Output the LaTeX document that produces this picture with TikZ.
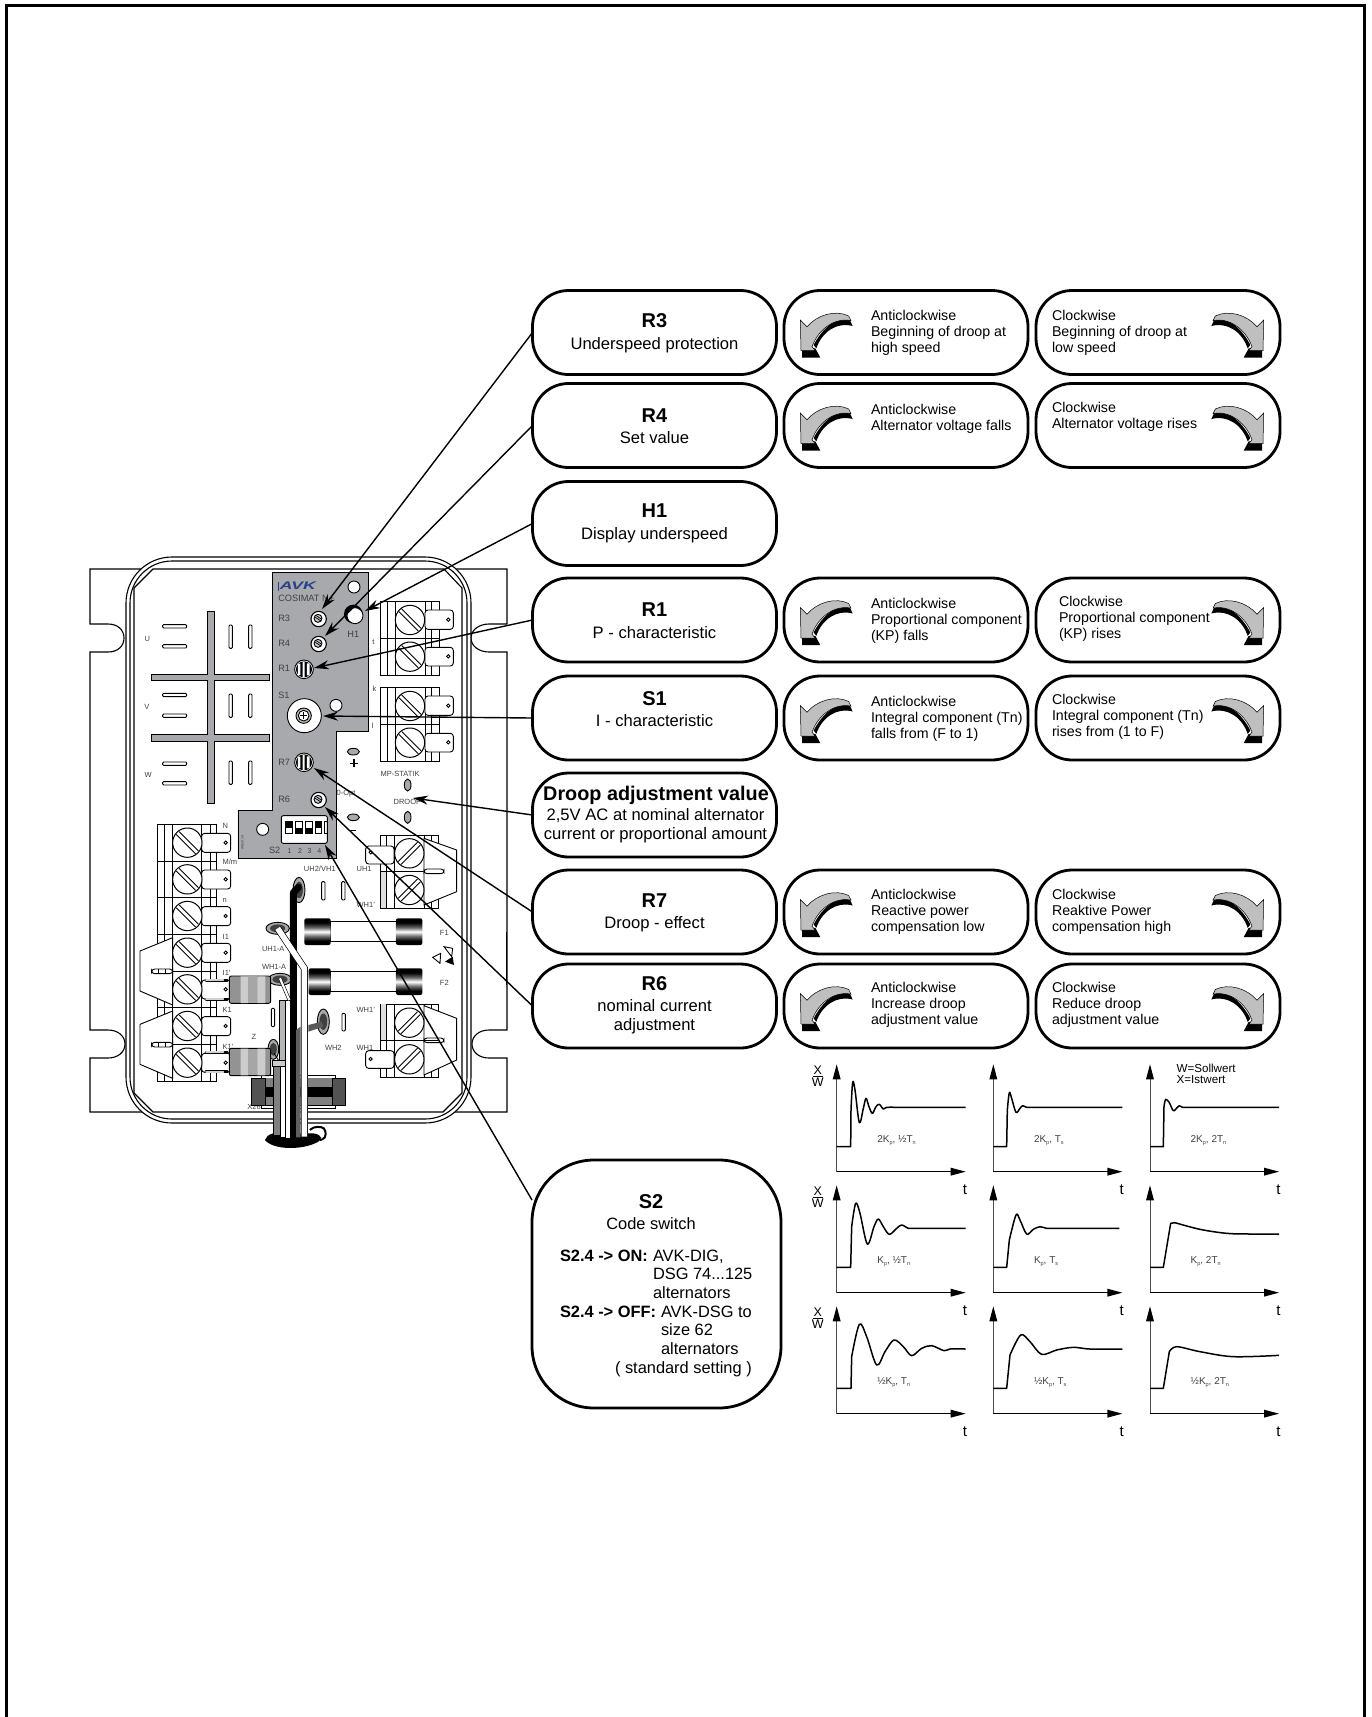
\documentclass[tikz,border=0pt]{standalone}
\usepackage{fontspec}
\usepackage{graphicx}
\setmainfont{Liberation Sans}
\usetikzlibrary{arrows.meta}
\newcommand\fsz[1]{\fontsize{#1}{#1}\selectfont}
\newcounter{nn}
\newcommand\lab[4][]{\stepcounter{nn}\node[txt,#1] (n\arabic{nn}) at (#2,#3) {#4};}
\newcommand\dev[3]{\lab[devt]{#1}{#2}{\fsz{7.5}#3}}
\newcommand\pan[3]{\lab[devt]{#1}{#2}{\fsz{9.2}#3}}
\newcommand\sbs[1]{{\fsz{5.5}\raisebox{-1.5pt}{#1}}}
\newcommand\ttlb[2]{\lab[anchor=mid]{654.5}{#1}{\fsz{20}\bfseries #2}}
\newcommand\subb[2]{\lab[anchor=mid]{654.5}{#1}{\fsz{16.6}#2}}
\newcommand\blk[3]{\lab{#1}{#2}{\fontsize{14.2}{16.2}\selectfont\begin{tabular}{@{}l@{}}#3\end{tabular}}}
\definecolor{panelgray}{HTML}{A7A9AC}
\definecolor{devtext}{HTML}{404040}
\definecolor{avkblue}{HTML}{27408B}
\pgfdeclareverticalshading{capshade}{100bp}{color(0bp)=(black); color(33bp)=(black); color(42bp)=(black!55); color(50bp)=(white); color(58bp)=(black!60); color(67bp)=(black); color(100bp)=(black)}
\tikzset{
 txt/.style={inner sep=0pt,outer sep=0pt,anchor=mid west,align=left},
 devt/.style={text=devtext},
 bx/.style={draw=black,line width=2.8pt,rounded corners=36pt,fill=white,inner sep=0pt,outer sep=0pt,align=center,minimum height=84pt},
 bxa/.style={bx,minimum width=244pt},
 conn/.style={draw=black,line width=1.4pt,-{Stealth[length=15pt,width=9pt]}},
 thin1/.style={draw=black,line width=.9pt},
 crv/.style={draw=black,line width=1.5pt,line join=round},
 zoomA/.style={shift={(80,550)},scale=1/3},
 zoomB/.style={shift={(120,800)},scale=1/3},
 zoomC/.style={shift={(800,1050)},scale=1/3},
 icanti/.pic={
  \begin{scope}[scale=1/3,shift={(-8,-30)}]
   \fill[black] (65,205) -- (105,205) -- (120,233) -- (65,233) -- cycle;
   \fill[black] (100,195) .. controls (125,145) and (170,110) .. (205,112) -- (217,138) .. controls (170,125) and (125,155) .. (108,205) -- cycle;
   \draw[fill=gray!50!white,line width=.5pt] (60,120) -- (80,140) .. controls (110,105) and (165,88) .. (205,108) -- (212,122) .. controls (165,112) and (115,145) .. (95,200) -- (105,212) -- (62,212) -- cycle;
  \end{scope}}
}
\newcommand\screw[3]{\begin{scope}[shift={(#1,#2)},rotate=#3]
 \draw[thin1,fill=white,line width=1pt] (0,0) circle[radius=44];
 \draw[thin1] (-41,-6) -- (41,-6) (-41,6) -- (41,6);
\end{scope}}
\newcommand\tabb[6]{\draw[thin1,fill=white,rounded corners=3pt] (#1,#2) rectangle (#3,#4);
 \draw[thin1,fill=white] (#5,#6) circle[radius=5];}
\newcommand\trim[2]{\begin{scope}[shift={(#1,#2)}]
 \draw[thin1,fill=white,line width=1.1pt] (0,0) circle[radius=23];
 \draw[thin1,fill=gray!45,line width=.9pt] (-2,-2) circle[radius=12];
 \draw[black,line width=.7pt] (-10,-5) -- (7,6) (-7,-10) -- (9,1);
\end{scope}}
\newcommand\potm[2]{\begin{scope}[shift={(#1,#2)}]
 \draw[thin1,fill=white] (0,0) circle[radius=28];
 \fill[black] (0,0) circle[radius=24];
 \fill[white] (-18,-17) rectangle (-11,17) (-4,-23) rectangle (2,23) (9,-18) rectangle (17,18);
\end{scope}}
\newcommand\axes[2]{%
 \draw[draw=black!70,line width=.8pt] (#1,#2) -- (#1,{#2-280});
 \fill[black] (#1,{#2-322}) -- ({#1-12},{#2-277}) -- ({#1+12},{#2-277}) -- cycle;
 \draw[black,line width=1.5pt] (#1,#2) -- ({#1+345},#2);
 \fill[black] ({#1+387},#2) -- ({#1+342},{#2-12}) -- ({#1+342},{#2+12}) -- cycle;
 \lab[anchor=mid]{{#1+385}}{{#2+61}}{\fsz{15}t}}
\newcommand\xw[1]{\lab[anchor=mid]{53}{{#1+66}}{\fsz{12.5}X}\lab[anchor=mid]{53}{{#1+101}}{\fsz{12.5}W}\draw[black,line width=.7pt] (38,{#1+78}) -- (69,{#1+78});}
\begin{document}
\begin{tikzpicture}[x=1pt,y=-1pt]
\path[use as bounding box] (0,0) rectangle (1372,1717);
% page frame
\draw[black,line width=3pt,miter limit=10] (6.5,1717) -- (6.5,5) -- (1364.5,5) -- (1364.5,1717);

% ---------- device: plate and housing
\draw[thin1,fill=white,line width=1.1pt] (90,569) -- (90,624) -- (108,624) .. controls (118,624) and (124,630) .. (124,638) .. controls (124,646) and (118,652) .. (108,652) -- (90,652) -- (90,1030) -- (108,1030) .. controls (118,1030) and (125,1036) .. (125,1044) .. controls (125,1052) and (118,1058) .. (108,1058) -- (90,1058) -- (90,1112) -- (507,1112) -- (507,1058) -- (489,1058) .. controls (479,1058) and (472,1052) .. (472,1044) .. controls (472,1036) and (479,1030) .. (489,1030) -- (507,1030) -- (507,652) -- (489,652) .. controls (479,652) and (471,646) .. (471,638) .. controls (471,630) and (479,624) .. (489,624) -- (507,624) -- (507,569) -- cycle;
\draw[black,line width=1.6pt] (506.5,932) -- (506.5,985);
\draw[thin1,fill=white,line width=1.1pt,rounded corners=46pt] (126,557) rectangle (471,1123);
\draw[thin1,line width=1.1pt,rounded corners=42pt] (130,561) rectangle (467,1119);
\draw[thin1,line width=1.1pt] (134,588) -- (153,569) -- (444,569) -- (462,588) -- (462,1093) -- (443,1112) -- (153,1112) -- (134,1093) -- cycle;

% ---------- upper part (first crop coordinates)
\begin{scope}[zoomA]
 % bus bars
 \draw[thin1,fill=panelgray] (382,184) -- (402,184) -- (402,372) -- (568,372) -- (568,392) -- (402,392) -- (402,553) -- (568,553) -- (568,574) -- (402,574) -- (402,760) -- (382,760) -- (382,574) -- (214,574) -- (214,553) -- (382,553) -- (382,392) -- (214,392) -- (214,372) -- (382,372) -- cycle;
 % slots
 \foreach \yy in {224,284,430,492,636,695}{\draw[thin1,fill=white,rounded corners=1pt] (248,\yy) rectangle (320,\yy+10);}
 \foreach \yy in {225,432,633}{\foreach \xx in {447,506}{\draw[thin1,fill=white,rounded corners=1pt] (\xx,\yy) rectangle (\xx+10,\yy+70);}}
 \dev{194}{266}{U}\dev{193}{471}{V}\dev{194}{674}{W}
 % gray panel
 \draw[thin1,fill=panelgray] (578,68) -- (866,68) -- (866,543) -- (770,543) -- (770,925) -- (474,925) -- (474,780) -- (578,780) -- cycle;
 \fill[avkblue] (594,96) rectangle (597,124);
 \lab{600}{112}{\scalebox{1.6}[1]{\fsz{11}\color{avkblue}\bfseries\itshape AVK}}
 \pan{595}{146}{COSIMAT N+}
 \draw[thin1,fill=white] (822,111) circle[radius=18];
 \pan{595}{207}{R3}\pan{595}{283}{R4}\pan{595}{358}{R1}\pan{595}{437}{S1}\pan{595}{638}{R7}\pan{595}{751}{R6}
 \trim{716}{207}\trim{716}{282}\trim{716}{750}
 \fill[black] (820,192) circle[radius=28];
 \draw[thin1,fill=white] (825,197) circle[radius=24];
 \lab[devt,anchor=mid]{820}{256}{\fsz{9.2}H1}
 \potm{672}{358}\potm{672}{637}
 \draw[thin1,fill=white] (673,497) circle[radius=51];
 \draw[thin1,fill=panelgray!80!white] (671,497) circle[radius=23];
 \draw[thin1,fill=white] (671,497) circle[radius=16];
 \draw[black,line width=1pt] (660,497) -- (682,497) (671,486) -- (671,508);
 \draw[thin1,fill=white] (768,466) circle[radius=18];
 \draw[thin1,fill=white] (548,838) circle[radius=18];
 % dip switch
 \draw[thin1,fill=white,rounded corners=2pt] (604,797) rectangle (742,880);
 \foreach \xx/\tp/\bt in {617/black/white,647/white/black,676/white/black,705/black/white}{
  \fill[\tp] (\xx,815) rectangle (\xx+20,833);
  \fill[\bt] (\xx,833) rectangle (\xx+20,851);
  \draw[black,line width=.6pt] (\xx,815) rectangle (\xx+20,851);}
 \draw[thin1] (733,815) rectangle (742,851);
 \pan{567}{903}{S2}
 \foreach \xx/\dd in {629/1,660/2,689/3,718/4}{\lab[devt,anchor=mid]{\xx}{903}{\fsz{7}\dd}}
 \lab[devt,anchor=mid,rotate=90]{483}{878}{\fsz{3.5}AW1K1A}
 % terminal blocks right
 \foreach \yy in {155,413}{
  \draw[thin1,fill=white] (902,\yy) rectangle (1078,\yy+221);
  \foreach \xx in {922,945,1035,1055}{\draw[thin1] (\xx,\yy) -- (\xx,\yy+221);}
  \draw[thin1] (902,\yy+110) -- (1078,\yy+110);
  \tabb{1035}{\yy+25}{1120}{\yy+83}{1105}{\yy+54}
  \tabb{1035}{\yy+137}{1120}{\yy+193}{1105}{\yy+164}
  \screw{990}{\yy+55}{-45}
  \screw{990}{\yy+165}{-45}}
 \dev{877}{275}{t}\dev{878}{418}{k}\dev{876}{528}{l}
 % signs and test points
 \draw[thin1,fill=panelgray] (820,605) ellipse[x radius=18,y radius=10];
 \draw[thin1,fill=panelgray] (820,802) ellipse[x radius=18,y radius=10];
 \draw[thin1,fill=panelgray] (983,705) ellipse[x radius=10,y radius=18];
 \draw[thin1,fill=panelgray] (983,802) ellipse[x radius=10,y radius=18];
 \draw[black,line width=1.2pt] (810,640) -- (834,640) (822,628) -- (822,652);
 \draw[black,line width=1.2pt] (808,842) -- (828,842);
 \dev{902}{672}{MP-STATIK}\dev{941}{755}{DROOP}\dev{770}{728}{0-Opt}
\end{scope}

% ---------- lower part (second crop coordinates)
\begin{scope}[zoomB]
 % left block
 \draw[thin1,fill=white] (112,73) rectangle (290,843);
 \foreach \xx in {132,157,245,270}{\draw[thin1] (\xx,73) -- (\xx,843);}
 \draw[black,line width=1pt] (112,183) -- (290,183) (112,293) -- (290,293) (112,403) -- (290,403) (112,513) -- (290,513) (112,623) -- (290,623) (112,733) -- (290,733);
 % left hexagons with pins
 \foreach \yy in {413,633}{
  \draw[thin1,fill=white] (158,\yy) -- (60,\yy+40) -- (60,\yy+160) -- (158,\yy+202) -- cycle;
  \draw[thin1,fill=white,rounded corners=3pt] (95,\yy+94) rectangle (158,\yy+108);
  \draw[thin1] (115,\yy+94) -- (115,\yy+108) (135,\yy+94) -- (135,\yy+108);}
 \foreach \yy in {128,238,348,458,568,678,788}{
  \tabb{245}{\yy-28}{332}{\yy+29}{317}{\yy}
  \screw{202}{\yy}{-45}}
 \dev{308}{79}{N}\dev{308}{187}{M/m}\dev{308}{299}{n}\dev{308}{410}{I1}\dev{308}{518}{I1'}\dev{308}{630}{K1}\dev{308}{740}{K1'}
 % right block upper
 \draw[thin1,fill=white] (780,105) rectangle (955,325);
 \fill[gray!25] (780,215) rectangle (800,325);
 \draw[thin1] (780,105) -- (780,325);
 \foreach \xx in {800,822,912,935}{\draw[thin1] (\xx,105) -- (\xx,325);}
 \draw[thin1] (780,215) -- (912,215);
 \draw[thin1,fill=white] (912,115) -- (1010,150) -- (1010,275) -- (912,315) -- cycle;
 \draw[thin1,fill=white,rounded corners=3pt] (912,207) rectangle (972,221);
 \screw{868}{160}{45}\screw{868}{270}{45}
 \draw[thin1,fill=white,rounded corners=3pt] (737,138) rectangle (822,192);
 \draw[thin1,fill=white] (752,157) circle[radius=5];
 % right block lower
 \draw[thin1,fill=white] (780,613) rectangle (955,833);
 \fill[gray!25] (780,613) rectangle (800,722);
 \draw[thin1] (780,613) -- (780,833);
 \foreach \xx in {800,822,912,935}{\draw[thin1] (\xx,613) -- (\xx,833);}
 \draw[thin1,fill=white] (912,617) -- (1010,655) -- (1010,780) -- (912,825) -- cycle;
 \draw[thin1,fill=white,rounded corners=3pt] (912,714) rectangle (972,728);
 \draw[black,line width=1pt] (780,722) -- (955,722);
 \screw{868}{668}{45}\screw{868}{778}{45}
 \draw[thin1,fill=white,rounded corners=3pt] (737,752) rectangle (822,805);
 \draw[thin1,fill=white] (752,777) circle[radius=5];
 \dev{552}{207}{UH2/VH1}\dev{710}{207}{UH1}\dev{710}{315}{WH1'}\dev{710}{630}{WH1'}\dev{710}{745}{WH1}\dev{615}{745}{WH2}
 \dev{960}{400}{F1}\dev{960}{550}{F2}\dev{395}{710}{Z}\dev{426}{448}{UH1-A}\dev{426}{500}{WH1-A}\dev{382}{920}{X26}
 % slots
 \foreach \xx/\ya/\yb in {605/245/300,665/245/300,454/625/680,666/640/693}{\draw[thin1,fill=white,rounded corners=1pt] (\xx,\ya) rectangle (\xx+10,\yb);}
 % fuses
 \draw[thin1,fill=white] (632,365) rectangle (828,425);
 \draw[thin1,fill=white] (632,515) rectangle (828,575);
 \foreach \xa/\xb/\yy in {553/632/355,828/907/355,566/632/505,828/907/505}{
  \shade[shading=capshade,rounded corners=2pt] (\xa,\yy) rectangle (\xb,\yy+80);}
 % ESD sign
 \draw[thin1] (938,472) -- (962,460) -- (960,490) -- cycle;
 \draw[thin1] (972,440) -- (998,445) -- (995,470) -- cycle;
 \fill[black] (975,485) -- (998,470) -- (1002,495) -- cycle;
 % connector X26
 \draw[thin1,fill=white] (425,825) rectangle (645,925);
 \fill[gray!65!black,draw=black,line width=.5pt] (393,835) rectangle (677,915);
 \fill[gray] (437,835) rectangle (637,915);
 \fill[black] (437,860) rectangle (637,892);
 \draw[thin1] (437,835) -- (437,915) (637,835) -- (637,915);
 % grommets
 \foreach \xx/\yy/\rx/\ry in {537/270/18/38,473/385/35/18,480/538/35/18,610/665/18/38,460/748/16/30}{
  \draw[thin1,fill=panelgray] (\xx,\yy) ellipse[x radius=\rx,y radius=\ry];
  \fill[black!75] (\xx,\yy) ellipse[x radius=\rx*.65,y radius=\ry*.65];}
 % resistors
 \foreach \yy in {528,745}{
  \draw[black,line width=3pt,line cap=round] (258,\yy+12) -- (322,\yy+12) (258,\yy+70) -- (322,\yy+70);
  \draw[gray!35,line width=1.8pt,line cap=round] (258,\yy+12) -- (310,\yy+12) (258,\yy+70) -- (310,\yy+70);
  \draw[thin1,fill=gray!85!white,rounded corners=2pt] (328,\yy) rectangle (452,\yy+82);
  \fill[gray!40] (362,\yy+1) rectangle (385,\yy+81) (412,\yy+1) rectangle (412+24,\yy+81);
  \fill[gray!70] (385,\yy+1) rectangle (412,\yy+81);}
 % cable bundle
 \fill[black] (435,1020) .. controls (440,1000) and (470,995) .. (500,1000) -- (580,1000) .. controls (610,1005) and (610,1020) .. (585,1030) .. controls (540,1050) and (460,1050) .. (435,1020) -- cycle;
 \draw[black,line width=2pt,rounded corners=4pt] (570,990) -- (580,980) -- (615,982) -- (618,1015) -- (600,1020);
 \draw[black,line width=7pt,line cap=round,line join=round] (535,262) -- (520,278) -- (520,1010);
 % gray and white strands
 \fill[panelgray!85!white,draw=black,line width=.4pt] (478,600) -- (495,600) -- (495,785) -- (478,785) -- cycle;
 \fill[white,draw=black,line width=.4pt] (495,600) rectangle (510,1015);
 \fill[gray,draw=black,line width=.4pt] (460,800) rectangle (480,1005);
 \fill[panelgray!60!white,draw=black,line width=.4pt] (456,782) rectangle (495,798);
 \fill[white,draw=black,line width=.4pt] (480,798) rectangle (495,1012);
 \draw[black,line width=7pt,line join=miter] (473,385) -- (553,505) -- (553,1010);
 \draw[white,line width=5.6pt,line join=miter] (473,385) -- (553,505) -- (553,1010);
 \draw[black,line width=3.4pt] (480,535) -- (508,600);
 \draw[white,line width=2.2pt] (480,535) -- (508,600);
 \fill[gray!75!black] (528,690) -- (542,680) -- (542,1012) -- (528,1012) -- cycle;
 \fill[gray!70!black] (565,675) -- (605,665) -- (610,680) -- (565,695) -- cycle;
 \draw[thin1] (462,760) -- (475,780);
\end{scope}

% ---------- boxes, first column
\node[bxa] (r3) at (654.5,332.5) {};
\node[bxa] (r4) at (654.5,425.5) {};
\node[bxa] (h1) at (654.5,523.5) {};
\node[bxa] (r1) at (654.5,620) {};
\node[bxa] (s1) at (654.5,718) {};
\node[bxa] (dr) at (654.5,815) {};
\node[bxa] (r7) at (654.5,912) {};
\node[bxa] (r6) at (654.5,1006) {};
\node[bx,minimum width=249pt,minimum height=248pt,rounded corners=62pt] (s2) at (656.5,1284) {};
\ttlb{325}{R3}\subb{347}{Underspeed protection}
\ttlb{420}{R4}\subb{441}{Set value}
\ttlb{515}{H1}\subb{537}{Display underspeed}
\ttlb{614}{R1}\subb{636}{P - characteristic}
\ttlb{703}{S1}\subb{724}{I - characteristic}
\lab[anchor=mid]{656}{798}{\fsz{19.8}\bfseries Droop adjustment value}
\subb{818}{\hspace*{2pt}2,5V AC at nominal alternator}
\subb{837}{\hspace*{2pt}current or proportional amount}
\ttlb{905}{R7}\subb{926}{Droop - effect}
\ttlb{988}{R6}\subb{1009}{nominal current}\subb{1028}{adjustment}

% S2 text
\lab[anchor=mid]{651}{1206}{\fsz{20}\bfseries S2}
\lab[anchor=mid]{651}{1227}{\fsz{16.4}Code switch}
\lab{560}{1258.5}{\fsz{16.4}\bfseries S2.4 -> ON:}
\lab{653}{1258.5}{\fsz{16.4}AVK-DIG,}
\lab{653}{1276.5}{\fsz{16.4}DSG 74...125}
\lab{653}{1295.5}{\fsz{16.4}alternators}
\lab{560}{1314.5}{\fsz{16.4}\bfseries S2.4 -> OFF:}
\lab{661}{1314.5}{\fsz{16.4}AVK-DSG to}
\lab{661}{1332.5}{\fsz{16.4}size 62}
\lab{661}{1351.5}{\fsz{16.4}alternators}
\lab{615}{1370.5}{\fsz{16.4}( standard setting )}

% ---------- boxes, second and third column
\foreach \nm/\cy in {a/332.5,b/425.5,c/620,d/718,e/912,f/1006}{
 \node[bxa] (anti\nm) at (906,\cy) {};
 \node[bxa] (clock\nm) at (1158,\cy) {};
 \pic at (783,\cy-42.5) {icanti};
 \pic[xscale=-1] at (1281,\cy-42.5) {icanti};
}
\blk{871}{334}{Anticlockwise\\Beginning of droop at\\high speed}
\blk{1052}{334}{Clockwise\\Beginning of droop at\\low speed}
\blk{871}{420}{Anticlockwise\\Alternator voltage falls}
\blk{1052}{418}{Clockwise\\Alternator voltage rises}
\blk{871}{622}{Anticlockwise\\Proportional component\\(KP) falls}
\blk{1059}{620}{Clockwise\\Proportional component\\(KP) rises}
\blk{871}{720}{Anticlockwise\\Integral component (Tn)\\falls from (F to 1)}
\blk{1052}{718}{Clockwise\\Integral component (Tn)\\rises from (1 to F)}
\blk{871}{913}{Anticlockwise\\Reactive power\\compensation low}
\blk{1052}{913}{Clockwise\\Reaktive Power\\compensation high}
\blk{871}{1006}{Anticlockwise\\Increase droop\\adjustment value}
\blk{1052}{1006}{Clockwise\\Reduce droop\\adjustment value}

% ---------- graphs
\begin{scope}[zoomC]
 \foreach \rr in {365,728,1091}{\axes{110}{\rr}\axes{580}{\rr}\axes{1050}{\rr}}
 \xw{0}\xw{363}\xw{726}
 \lab{1130}{59}{\fsz{11.6}W=Sollwert}
 \lab{1130}{94}{\fsz{11.6}X=Istwert}
 \draw[crv] (110,290) -- (152,290) -- plot[smooth,tension=.55] coordinates {(153,180) (158,97) (165,120) (178,218) (190,175) (198,145) (207,170) (217,190) (228,170) (238,163) (250,177) (260,172) (300,172)} -- (497,172);
 \draw[crv] (580,290) -- (620,290) -- plot[smooth,tension=.55] coordinates {(622,180) (628,128) (635,145) (648,187) (660,175) (668,167) (680,172) (700,172)} -- (967,172);
 \draw[crv] (1050,290) -- (1090,290) -- plot[smooth,tension=.55] coordinates {(1092,170) (1097,148) (1108,158) (1120,182) (1132,172) (1138,167) (1148,172) (1170,172)} -- (1437,172);
 \draw[crv] (110,652) -- (152,652) -- plot[smooth,tension=.55] coordinates {(155,530) (167,460) (180,490) (202,582) (222,530) (235,507) (250,530) (268,553) (290,535) (305,525) (325,535) (340,535) (360,535)} -- (497,535);
 \draw[crv] (580,652) -- (620,652) -- plot[smooth,tension=.55] coordinates {(628,570) (648,495) (660,510) (680,552) (700,538) (720,530) (740,535) (770,535)} -- (958,535);
 \draw[crv] (1050,652) -- (1090,652) -- (1112,520) -- plot[smooth,tension=.55] coordinates {(1125,518) (1200,538) (1280,550) (1350,552) (1437,552)};
 \draw[crv] (110,1015) -- (153,1015) -- plot[smooth,tension=.55] coordinates {(155,920) (178,823) (200,860) (230,945) (255,905) (282,870) (310,890) (335,917) (365,895) (395,887) (432,902) (450,897) (497,897)};
 \draw[crv] (580,1015) -- (620,1015) -- plot[smooth,tension=.55] coordinates {(630,915) (662,855) (690,875) (725,913) (770,900) (820,892) (870,897) (967,897)};
 \draw[crv] (1050,1015) -- (1090,1015) -- plot[smooth,tension=.55] coordinates {(1108,905) (1130,890) (1200,905) (1300,920) (1437,916)};
 \foreach \xx/\yy/\ttl in {232/270/{2K\sbs{p}, ½T\sbs{n}},702/270/{2K\sbs{p}, T\sbs{s}},1172/270/{2K\sbs{p}, 2T\sbs{n}},232/633/{K\sbs{p}, ½T\sbs{n}},702/633/{K\sbs{p}, T\sbs{s}},1172/633/{K\sbs{p}, 2T\sbs{n}},232/996/{½K\sbs{p}, T\sbs{n}},702/996/{½K\sbs{p}, T\sbs{s}},1172/996/{½K\sbs{p}, 2T\sbs{n}}}{
  \lab[devt]{\xx}{\yy}{\fsz{10}\ttl}}
\end{scope}

% ---------- connectors
\coordinate (tr3) at (322,609);
\coordinate (tr4) at (325,636);
\coordinate (th1) at (365,611);
\coordinate (tr1) at (314,668);
\coordinate (ts1) at (323,716);
\coordinate (tdr) at (413,798);
\coordinate (tr7) at (314,768);
\coordinate (tr6) at (325,807);
\coordinate (ts2) at (325,845);
\coordinate (s2start) at (532,1200);
\draw[conn] (r3.west) -- (tr3);
\draw[conn] (r4.west) -- (tr4);
\draw[conn] (h1.west) -- (th1);
\draw[conn] (r1.west) -- (tr1);
\draw[conn] (s1.west) -- (ts1);
\draw[conn] (dr.west) -- (tdr);
\draw[conn] (r7.west) -- (tr7);
\draw[conn] (r6.west) -- (tr6);
\draw[conn] (s2start) -- (ts2);
\end{tikzpicture}
\end{document}
